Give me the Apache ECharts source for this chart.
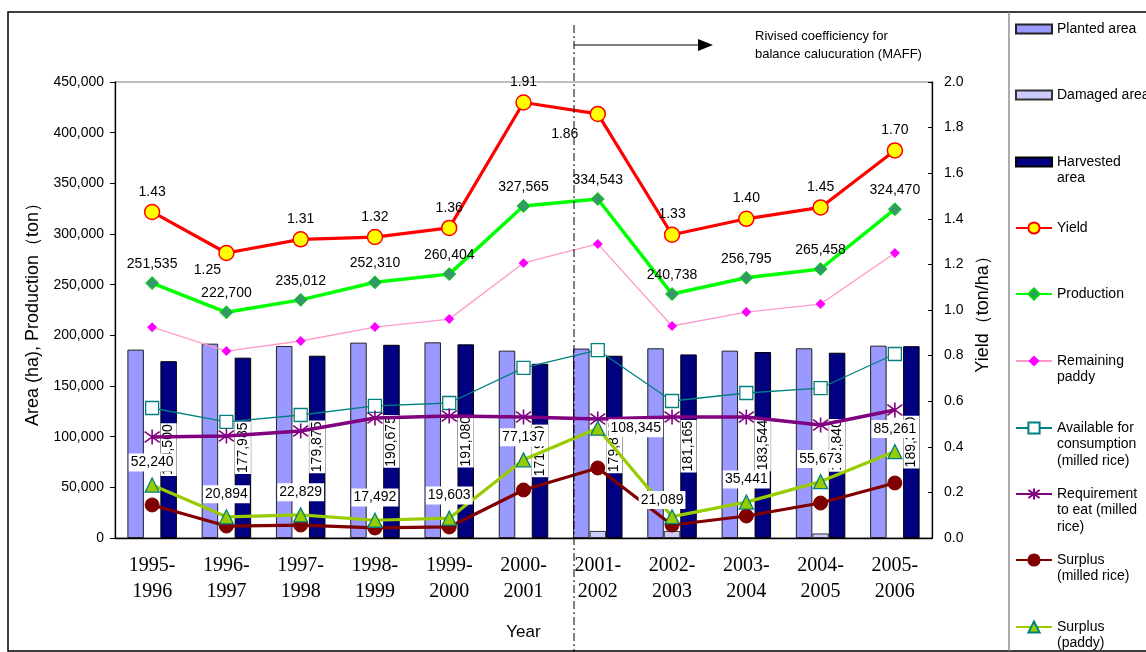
<!DOCTYPE html>
<html><head><meta charset="utf-8">
<script src="https://cdn.jsdelivr.net/npm/echarts@6/dist/echarts.min.js"></script>
<style>html,body{margin:0;padding:0;background:#fff}#c{width:1146px;height:652px}</style>
</head><body><div id="c"></div>
<script>
// ---------- data ----------
const categories = ['1995-\n1996','1996-\n1997','1997-\n1998','1998-\n1999','1999-\n2000','2000-\n2001','2001-\n2002','2002-\n2003','2003-\n2004','2004-\n2005','2005-\n2006'];
const plantedArea = [185900, 191800, 189500, 192800, 193100, 184900, 186900, 187200, 184900, 187200, 189800];
const damagedArea = [null, null, null, null, null, null, 7000, 7000, 1000, 4500, null];
const harvestedArea = [174500, 177985, 179875, 190675, 191080, 171900, 179850, 181165, 183544, 182840, 189300];
const yieldTonHa = [1.43, 1.25, 1.31, 1.32, 1.36, 1.91, 1.86, 1.33, 1.40, 1.45, 1.70];
const production = [251535, 222700, 235012, 252310, 260404, 327565, 334543, 240738, 256795, 265458, 324470];
const remainingPaddy = [208000, 184500, 194400, 208200, 216000, 271400, 290200, 209200, 223000, 230900, 281200];
const availableForConsumption = [128300, 114500, 121400, 130300, 133200, 167800, 185500, 135200, 143100, 148000, 181600];
const requirementToEat = [99700, 100700, 105600, 118400, 120400, 119400, 117400, 119400, 119400, 111500, 126300];
const surplusMilledRice = [32600, 11800, 12800, 9900, 10900, 47400, 69100, 12800, 21700, 34500, 54300];
const surplusPaddy = [52240, 20894, 22829, 17492, 19603, 77137, 108345, 21089, 35441, 55673, 85261];
const leftTicks = {min: 0, max: 450000, interval: 50000};
const rightTicks = {min: 0, max: 2.0, interval: 0.2};

// ---------- helpers ----------
const fmt = v => Number(v).toLocaleString('en-US');
const FONT = 'Liberation Sans';
const yieldLabelPlace = {1: {position: 'bottom', offset: [-19, -3]}, 6: {position: 'bottom', offset: [-33, 0]}};
const paddyLabelPlace = {6: {position: 'right', distance: 3, offset: [0, 0]}, 7: {position: 'top', offset: [-10, 6]}};
function withLabels(values, place) {
  return values.map((v, i) => place[i] ? {value: v, label: place[i]} : v);
}

const legendText = {
  'Planted area': 'Planted area',
  'Damaged area': 'Damaged area',
  'Harvested area': 'Harvested\narea',
  'Yield': 'Yield',
  'Production': 'Production',
  'Remaining paddy': 'Remaining\npaddy',
  'Available for consumption (milled rice)': 'Available for\nconsumption\n(milled rice)',
  'Requirement to eat (milled rice)': 'Requirement\nto eat (milled\nrice)',
  'Surplus (milled rice)': 'Surplus\n(milled rice)',
  'Surplus (paddy)': 'Surplus\n(paddy)'
};
const legendCenters = [29, 95, 162, 228, 294, 361, 428, 494, 560, 627];
const LH = 16.5;
const legends = Object.keys(legendText).map((name, i) => {
  const n = legendText[name].split('\n').length;
  const isBar = i < 3;
  const ih = isBar ? 9 : 14;
  const h = Math.max((2 * n - 1) * LH, ih);
  // leading blank lines keep the icon level with the first text line
  const shown = '\n'.repeat(n - 1) + legendText[name];
  return {
    data: [name], left: 1015, top: legendCenters[i] - h / 2, padding: 0,
    itemWidth: 36, itemHeight: ih, itemGap: 0, selectedMode: false,
    icon: isBar ? 'rect' : undefined,
    formatter: () => shown,
    textStyle: {fontFamily: FONT, fontSize: 14, color: '#000', lineHeight: LH}
  };
});

const lineLabel = {show: true, position: 'top', color: '#000', fontFamily: FONT, fontSize: 14};

const option = {
  animation: false,
  textStyle: {fontFamily: FONT},
  grid: {left: 115, right: 214, top: 82, bottom: 114, show: true, borderColor: '#808080', borderWidth: 1, containLabel: false, outerBoundsMode: 'none'},
  legend: legends,
  xAxis: {
    type: 'category', data: categories, boundaryGap: true,
    axisLine: {lineStyle: {color: '#000', width: 1.3}},
    axisTick: {inside: true, length: 5, lineStyle: {color: '#000'}},
    axisLabel: {fontFamily: 'Liberation Serif', fontSize: 20, lineHeight: 26, color: '#000', margin: 15},
    name: 'Year', nameLocation: 'middle', nameGap: 86,
    nameTextStyle: {fontFamily: FONT, fontSize: 17, color: '#000'}
  },
  yAxis: [{
    type: 'value', min: leftTicks.min, max: leftTicks.max, interval: leftTicks.interval,
    axisLine: {show: true, lineStyle: {color: '#000', width: 1.3}},
    axisTick: {show: true, length: 5, lineStyle: {color: '#000'}},
    splitLine: {show: false},
    axisLabel: {formatter: fmt, fontSize: 14, color: '#000', margin: 11},
    name: 'Area (ha), Production（ton）', nameLocation: 'middle', nameGap: 70, nameRotate: 90,
    nameTextStyle: {fontSize: 18, color: '#000'}
  }, {
    type: 'value', min: rightTicks.min, max: rightTicks.max, interval: rightTicks.interval, position: 'right',
    axisLine: {show: true, lineStyle: {color: '#000', width: 1.3}},
    axisTick: {show: true, inside: true, length: 4, lineStyle: {color: '#000'}},
    splitLine: {show: false},
    axisLabel: {formatter: v => v.toFixed(1), fontSize: 14, color: '#000', margin: 12},
    name: 'Yield（ton/ha）', nameLocation: 'middle', nameGap: 42, nameRotate: 90,
    nameTextStyle: {fontSize: 18, color: '#000'}
  }],
  series: [
    {name: 'Planted area', type: 'bar', data: plantedArea, barWidth: 16.5, barGap: '0%', z: 2,
     itemStyle: {color: '#9999FF', borderColor: '#222', borderWidth: 1}},
    {name: 'Damaged area', type: 'bar', data: damagedArea, barWidth: 16.5, barGap: '0%', z: 2,
     itemStyle: {color: '#CCCCFF', borderColor: '#333', borderWidth: 1}},
    {name: 'Harvested area', type: 'bar', data: harvestedArea, barWidth: 16.5, barGap: '0%', z: 2,
     itemStyle: {color: '#000080', borderColor: '#000', borderWidth: 1},
     label: {show: true, position: 'inside', rotate: 90, formatter: p => fmt(p.value), color: '#000',
             backgroundColor: '#fff', padding: [1, 1], fontSize: 14}},
    {name: 'Yield', type: 'line', yAxisIndex: 1, z: 5, data: withLabels(yieldTonHa, yieldLabelPlace),
     symbol: 'circle', symbolSize: 15,
     lineStyle: {color: '#FF0000', width: 3.2},
     itemStyle: {color: '#FFFF00', borderColor: '#FF0000', borderWidth: 1.5},
     label: Object.assign({}, lineLabel, {formatter: p => Number(p.value).toFixed(2)})},
    {name: 'Production', type: 'line', z: 4, data: production,
     symbol: 'diamond', symbolSize: 13,
     lineStyle: {color: '#00FF00', width: 3.5},
     itemStyle: {color: '#339966', borderColor: '#00DD00', borderWidth: 1},
     label: Object.assign({}, lineLabel, {formatter: p => fmt(p.value)})},
    {name: 'Remaining paddy', type: 'line', z: 3, data: remainingPaddy,
     symbol: 'diamond', symbolSize: 10,
     lineStyle: {color: '#FF99CC', width: 1.3},
     itemStyle: {color: '#FF00FF', borderColor: '#FF00FF', borderWidth: 0}},
    {name: 'Available for consumption (milled rice)', type: 'line', z: 3, data: availableForConsumption,
     symbol: 'rect', symbolSize: 13,
     lineStyle: {color: '#008080', width: 1.3},
     itemStyle: {color: '#FFFFFF', borderColor: '#008080', borderWidth: 1.3}},
    {name: 'Requirement to eat (milled rice)', type: 'line', z: 3, data: requirementToEat,
     symbol: 'path://M0,2L14,12M0,12L14,2M7,0L7,14', symbolSize: 15,
     lineStyle: {color: '#800080', width: 3.5},
     itemStyle: {color: '#800080', borderColor: '#800080', borderWidth: 1.6}},
    {name: 'Surplus (milled rice)', type: 'line', z: 3, data: surplusMilledRice,
     symbol: 'circle', symbolSize: 14,
     lineStyle: {color: '#800000', width: 3.2},
     itemStyle: {color: '#800000', borderColor: '#800000', borderWidth: 1}},
    {name: 'Surplus (paddy)', type: 'line', z: 4, data: withLabels(surplusPaddy, paddyLabelPlace),
     symbol: 'triangle', symbolSize: 14,
     lineStyle: {color: '#99CC00', width: 3.2},
     itemStyle: {color: '#99CC00', borderColor: '#008080', borderWidth: 1.3},
     label: Object.assign({}, lineLabel, {formatter: p => fmt(p.value), backgroundColor: '#fff', padding: [2, 2], distance: 6})}
  ],
  graphic: [
    {type: 'rect', silent: true, z: 100, shape: {x: 8, y: 12, width: 1160, height: 639},
     style: {fill: 'none', stroke: '#000', lineWidth: 1.5}},
    {type: 'line', silent: true, z: 100, shape: {x1: 1009, y1: 12, x2: 1009, y2: 651},
     style: {stroke: '#808080', lineWidth: 1.3}},
    {type: 'line', silent: true, z: 100, shape: {x1: 574, y1: 25, x2: 574, y2: 652},
     style: {stroke: '#000', lineWidth: 1, lineDash: [8, 3, 2, 3]}},
    {type: 'line', silent: true, z: 100, shape: {x1: 574, y1: 45, x2: 700, y2: 45},
     style: {stroke: '#000', lineWidth: 1.2}},
    {type: 'polygon', silent: true, z: 100, shape: {points: [[698, 39], [713, 45], [698, 51]]},
     style: {fill: '#000'}},
    {type: 'text', silent: true, z: 100, x: 755, y: 27,
     style: {text: 'Rivised coefficiency for\nbalance calucuration (MAFF)', font: '13px "Liberation Sans"', fill: '#000', lineHeight: 18}}
  ]
};
const chart = echarts.init(document.getElementById('c'), null, {renderer: 'canvas'});
chart.setOption(option);
</script>
</body></html>
